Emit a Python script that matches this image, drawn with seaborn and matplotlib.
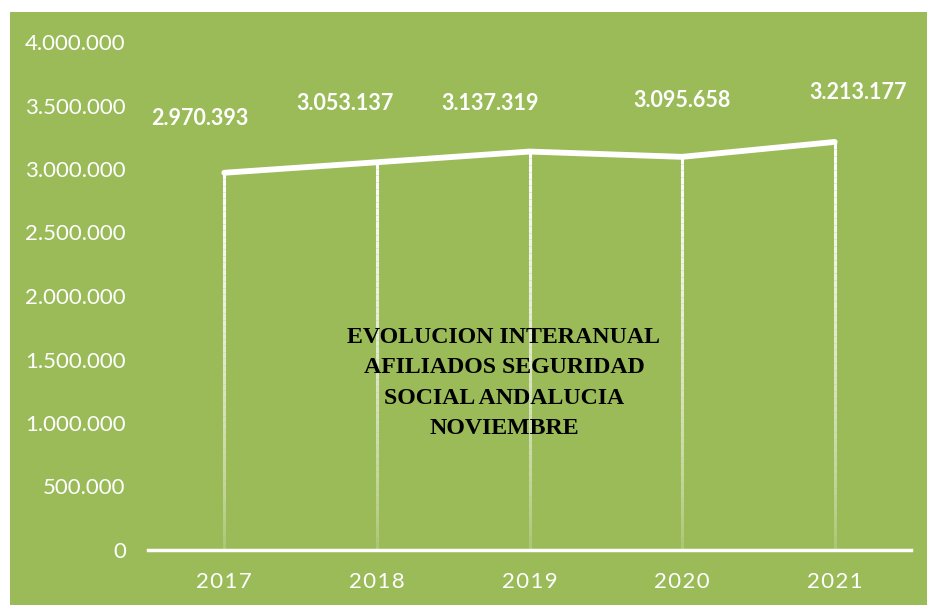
import numpy as np
import pandas as pd
import matplotlib
matplotlib.use("Agg")
import matplotlib.pyplot as plt
import seaborn as sns
from matplotlib.collections import LineCollection
from matplotlib.patches import Rectangle

# data
years = ["2017", "2018", "2019", "2020", "2021"]
afiliados = [2970393, 3053137, 3137319, 3095658, 3213177]
title = "EVOLUCION INTERANUAL\nAFILIADOS SEGURIDAD\nSOCIAL ANDALUCIA\nNOVIEMBRE"

GREEN = "#9BBB59"

def fmt_es(v):
    return f"{int(v):,}".replace(",", ".")

df = pd.DataFrame({"year": years, "afiliados": afiliados})

sns.set_style("white")
plt.rcParams["font.family"] = ["Lato", "DejaVu Sans"]

fig = plt.figure(figsize=(9.28, 6.05), dpi=100, facecolor="white")
fig.patches.append(Rectangle((10 / 928, 0), 1, 1 - 12 / 605, transform=fig.transFigure,
                             facecolor=GREEN, edgecolor="none", zorder=-10))
ax = fig.add_axes([148 / 928, 1 - 550 / 605, (911 - 148) / 928, (550 - 42) / 605])
ax.set_facecolor("none")
ax.patch.set_alpha(0)

# drop lines fading towards the baseline
for i, v in enumerate(afiliados):
    ys = np.linspace(0, v, 60)
    segs = [[(i, ys[k]), (i, ys[k + 1])] for k in range(len(ys) - 1)]
    alphas = np.linspace(0.05, 1.0, len(segs)) ** 0.6
    cols = [(1, 1, 1, a) for a in alphas]
    ax.add_collection(LineCollection(segs, colors=cols, linewidths=2.2, zorder=2))

sns.lineplot(data=df, x="year", y="afiliados", ax=ax, color="white", linewidth=4.2,
             sort=False, zorder=3, solid_capstyle="round")

ax.set_xlim(-0.5, len(years) - 0.5)
ax.set_ylim(0, 4000000)
ax.set_yticks(np.arange(0, 4000001, 500000))
ax.set_yticklabels([fmt_es(t) for t in ax.get_yticks()], color="white", fontsize=16)
ax.set_xticks(range(len(years)))
ax.set_xticklabels(["\u200a".join(y) for y in years], color="white", fontsize=16)
ax.tick_params(axis="y", length=0, pad=16)
ax.tick_params(axis="x", length=0, pad=15.5)
ax.set_xlabel("")
ax.set_ylabel("")
for s in ["left", "right", "top"]:
    ax.spines[s].set_visible(False)
ax.spines["bottom"].set_color("white")
ax.spines["bottom"].set_linewidth(2.5)

# data labels, positioned as in the original
offsets = [(-24, 54), (-32, 59), (-39, 48), (0, 56), (23, 49)]
for i, v in enumerate(afiliados):
    ax.annotate(fmt_es(v), (i, v), xytext=offsets[i], textcoords="offset pixels",
                ha="center", va="center", color="white", fontsize=15.5, fontweight="bold")

fig.text(504 / 928, 1 - 383 / 605, title, ha="center", va="center", color="black",
         fontsize=17.2, fontweight="bold", family=["Liberation Serif", "DejaVu Serif"],
         linespacing=1.6)

fig.savefig("out.png", dpi=100, facecolor="white")
